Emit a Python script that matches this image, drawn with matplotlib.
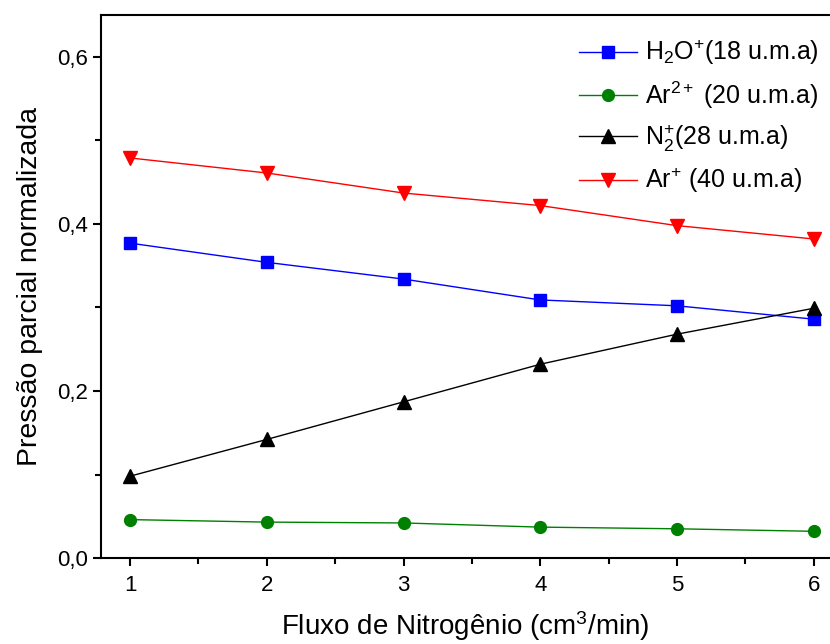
import matplotlib
matplotlib.use("Agg")
import matplotlib.pyplot as plt
from matplotlib.ticker import FixedLocator, FuncFormatter

plt.rcParams['font.family'] = ['Liberation Sans', 'DejaVu Sans']
plt.rcParams['mathtext.fontset'] = 'custom'
plt.rcParams['mathtext.rm'] = 'Liberation Sans'
plt.rcParams['mathtext.it'] = 'Liberation Sans:italic'

fluxo = [1, 2, 3, 4, 5, 6]
h2o = [0.377, 0.354, 0.334, 0.309, 0.302, 0.286]
ar2 = [0.046, 0.043, 0.042, 0.037, 0.035, 0.032]
n2 = [0.098, 0.142, 0.187, 0.232, 0.268, 0.299]
ar1 = [0.479, 0.461, 0.437, 0.422, 0.398, 0.382]

labels = ["H$_2$O$^{+}$(18 u.m.a)", "Ar$^{2+}$ (20 u.m.a)",
          "N$_2^{+}$(28 u.m.a)", "Ar$^{+}$ (40 u.m.a)"]
yticks = [0.0, 0.2, 0.4, 0.6]

fig = plt.figure(figsize=(8.3, 6.44), dpi=100)
ax = fig.add_axes([0.1217, 0.1335, 0.8783, 0.843])

ax.plot(fluxo, h2o, color='blue', marker='s', ms=8.5, lw=1, label=labels[0])
ax.plot(fluxo, ar2, color='green', marker='o', ms=8.5, lw=1, label=labels[1])
ax.plot(fluxo, n2, color='black', marker='^', ms=9.5, lw=1, label=labels[2])
ax.plot(fluxo, ar1, color='red', marker='v', ms=9.5, lw=1, label=labels[3])

ax.set_xlim(0.787, 6.12)
ax.set_ylim(0.0, 0.65)
ax.xaxis.set_major_locator(FixedLocator(fluxo))
ax.xaxis.set_minor_locator(FixedLocator([1.5, 2.5, 3.5, 4.5, 5.5]))
ax.yaxis.set_major_locator(FixedLocator(yticks))
ax.yaxis.set_minor_locator(FixedLocator([0.1, 0.3, 0.5]))
ax.yaxis.set_major_formatter(FuncFormatter(lambda v, p: f"{v:.1f}".replace('.', ',')))

ax.spines['right'].set_visible(False)
for s in ['left', 'bottom', 'top']:
    ax.spines[s].set_linewidth(1.5)
ax.tick_params(which='major', direction='out', length=6, width=1.5, labelsize=16)
ax.tick_params(which='minor', direction='out', length=4, width=1.5)
ax.tick_params(axis='x', pad=6)

ax.set_xlabel("Fluxo de Nitrogênio (cm$^3$/min)", fontsize=20, labelpad=10)
ax.set_ylabel("Pressão parcial normalizada", fontsize=20.5, labelpad=10)

leg = ax.legend(loc='upper right', bbox_to_anchor=(1.008, 0.99), frameon=False,
                fontsize=18, handlelength=2.3, labelspacing=0.48, handletextpad=0.32,
                borderaxespad=0.3)

fig.savefig("out.png", dpi=100)
